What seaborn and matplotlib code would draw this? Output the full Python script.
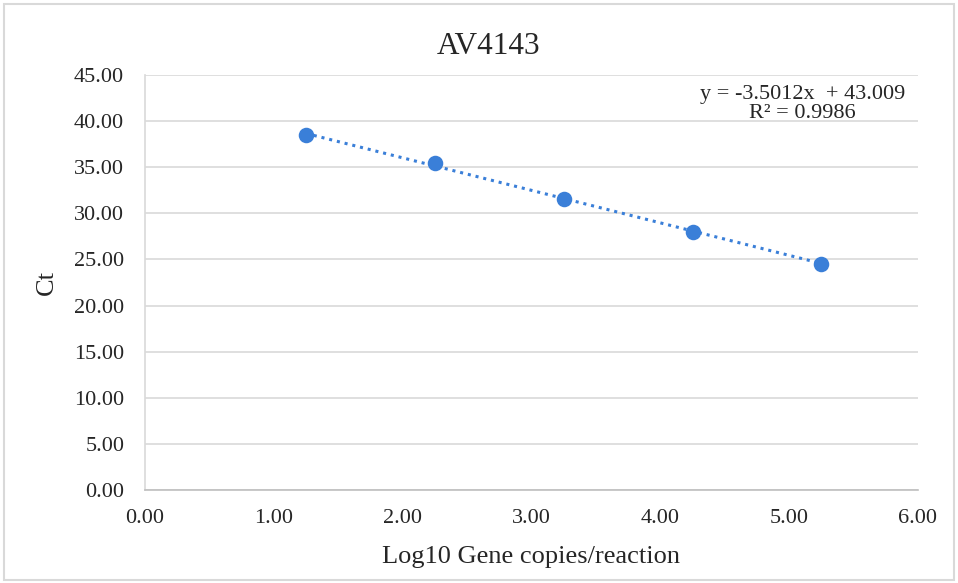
import numpy as np
import pandas as pd
import matplotlib
matplotlib.use("Agg")
import matplotlib.pyplot as plt
import seaborn as sns
from matplotlib.patches import Rectangle

# Data
log_copies = [1.25, 2.25, 3.25, 4.25, 5.25]
ct_values = [38.45, 35.45, 31.60, 28.00, 24.55]
x_ticks = [0, 1, 2, 3, 4, 5, 6]
y_ticks = [0, 5, 10, 15, 20, 25, 30, 35, 40, 45]
title = "AV4143"
eq_text = "y = -3.5012x  + 43.009\nR² = 0.9986"

sns.set_style("white")
plt.rcParams['font.family'] = ['Liberation Serif', 'DejaVu Serif']

df = pd.DataFrame({"x": log_copies, "y": ct_values})

fig = plt.figure(figsize=(9.58, 5.83), dpi=100)
ax = fig.add_axes([0.1514, 0.1595, 0.8068, 0.7119])

blue = "#3A7FD8"
grid_c = "#D9D9D9"
txt_c = "#262626"

# trendline
coef = np.polyfit(df["x"], df["y"], 1)
xs = np.array([df["x"].min(), df["x"].max()])
ax.plot(xs, np.polyval(coef, xs), linestyle=(0, (1, 1.6)), color=blue, lw=2.2, zorder=2)

sns.scatterplot(data=df, x="x", y="y", ax=ax, color=blue, s=125, edgecolor=blue, linewidth=0, zorder=3)

ax.set_xlim(0, 6)
ax.set_ylim(0, 45)
ax.set_xticks(x_ticks)
ax.set_yticks(y_ticks)
ax.set_xticklabels([f"{v:.2f}" for v in x_ticks])
ax.set_yticklabels([f"{v:.2f}" for v in y_ticks])
ax.yaxis.grid(True, color=grid_c, lw=1.2)
ax.set_axisbelow(True)

for s in ["top", "right"]:
    ax.spines[s].set_visible(False)
ax.spines["left"].set_color(grid_c)
ax.spines["left"].set_linewidth(1.2)
ax.spines["bottom"].set_color("#BFBFBF")
ax.spines["bottom"].set_linewidth(1.2)

ax.tick_params(axis="x", direction="out", length=5, width=1.2, color="#BFBFBF",
               labelsize=16, labelcolor=txt_c, pad=9)
ax.tick_params(axis="y", length=0, labelsize=16, labelcolor=txt_c, pad=15)

ax.set_xlabel("Log10 Gene copies/reaction", fontsize=19, color=txt_c, va="center")
ax.xaxis.set_label_coords(0.5, -0.161)
ax.set_ylabel("Ct", fontsize=19, color=txt_c, va="center")
ax.yaxis.set_label_coords(-0.127, 0.5)
fig.text(0.5105, 0.921, title, ha="center", va="center", fontsize=22.5, color=txt_c)

ax.text(0.851, 0.930, eq_text, transform=ax.transAxes, ha="center", va="center",
        fontsize=16, color=txt_c, linespacing=0.95)

fig.patches.append(Rectangle((0.004, 0.005), 0.992, 0.988, transform=fig.transFigure,
                             fill=False, edgecolor="#D9D9D9", lw=1.5))

fig.savefig("out.png", dpi=100)
